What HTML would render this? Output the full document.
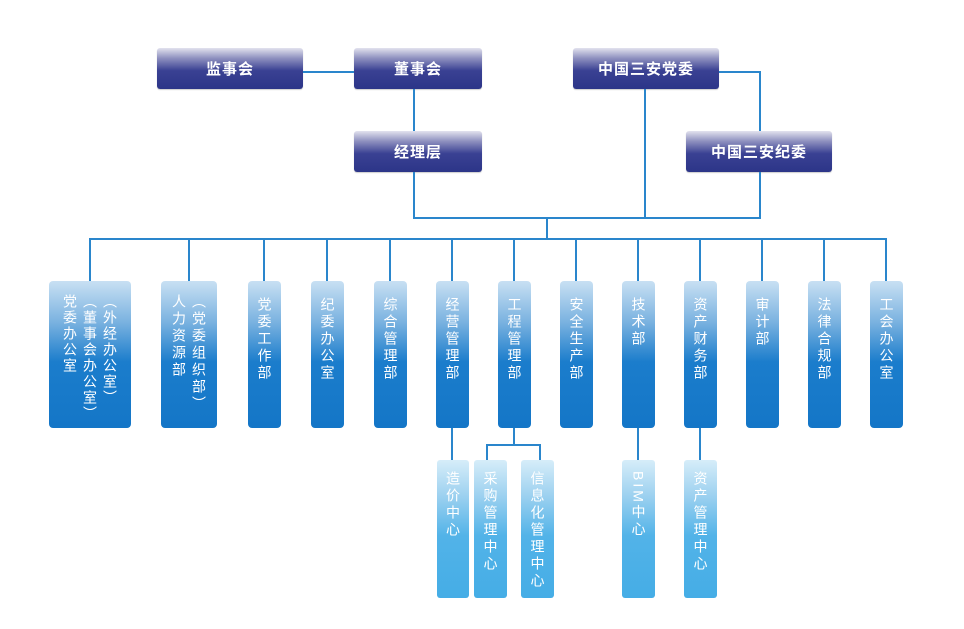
<!DOCTYPE html>
<html><head><meta charset="utf-8"><style>
body{margin:0;width:964px;height:629px;background:#fff;position:relative;overflow:hidden;font-family:"Liberation Sans","Noto Sans CJK SC",sans-serif}
.t{position:absolute;height:41px;border-radius:3px;background:linear-gradient(#e2e2ee 0%,#8e90bf 25%,#3a4193 55%,#2c3588 100%);color:#fff;font-weight:bold;font-size:15px;letter-spacing:1px;display:flex;align-items:center;justify-content:center;box-shadow:0 1px 1px rgba(0,0,0,.2)}
.l{position:absolute;background:#2a86cc}
.d{position:absolute;top:281px;height:147px;border-radius:4px;background:linear-gradient(#c8e0f3 0%,#7ab2e0 28%,#1b7dcc 55%,#1476c7 100%);color:#fff;font-size:14px;display:flex;justify-content:center;padding-top:16px;box-sizing:border-box}
.s{position:absolute;top:460px;height:138px;border-radius:3px;background:linear-gradient(#d6edf9 0%,#9fd2f0 25%,#52b3e8 55%,#45ade6 100%);color:#fff;font-size:14px;display:flex;justify-content:center;padding-top:11px;box-sizing:border-box}
.v{writing-mode:vertical-rl;letter-spacing:3px;line-height:20px;white-space:nowrap}
</style></head><body>
<div class="t" style="left:157px;top:48px;width:146px">监事会</div>
<div class="t" style="left:354px;top:48px;width:128px">董事会</div>
<div class="t" style="left:354px;top:131px;width:128px">经理层</div>
<div class="t" style="left:573px;top:48px;width:146px">中国三安党委</div>
<div class="t" style="left:686px;top:131px;width:146px">中国三安纪委</div>

<div class="l" style="left:303px;top:71px;width:51px;height:2px"></div>
<div class="l" style="left:413px;top:89px;width:2px;height:42px"></div>
<div class="l" style="left:413px;top:172px;width:2px;height:46px"></div>
<div class="l" style="left:719px;top:71px;width:42px;height:2px"></div>
<div class="l" style="left:759px;top:71px;width:2px;height:60px"></div>
<div class="l" style="left:644px;top:89px;width:2px;height:129px"></div>
<div class="l" style="left:759px;top:172px;width:2px;height:46px"></div>
<div class="l" style="left:413px;top:217px;width:348px;height:2px"></div>
<div class="l" style="left:546px;top:217px;width:2px;height:22px"></div>
<div class="l" style="left:89px;top:238px;width:798px;height:2px"></div>

<div class="l" style="left:89px;top:238px;width:2px;height:43px"></div>
<div class="l" style="left:188px;top:238px;width:2px;height:43px"></div>
<div class="l" style="left:263px;top:238px;width:2px;height:43px"></div>
<div class="l" style="left:326px;top:238px;width:2px;height:43px"></div>
<div class="l" style="left:389px;top:238px;width:2px;height:43px"></div>
<div class="l" style="left:451px;top:238px;width:2px;height:43px"></div>
<div class="l" style="left:513px;top:238px;width:2px;height:43px"></div>
<div class="l" style="left:575px;top:238px;width:2px;height:43px"></div>
<div class="l" style="left:637px;top:238px;width:2px;height:43px"></div>
<div class="l" style="left:699px;top:238px;width:2px;height:43px"></div>
<div class="l" style="left:761px;top:238px;width:2px;height:43px"></div>
<div class="l" style="left:823px;top:238px;width:2px;height:43px"></div>
<div class="l" style="left:885px;top:238px;width:2px;height:43px"></div>

<div class="d" style="left:49px;width:82px;padding-top:13px"><div class="v" style="letter-spacing:2px">（外经办公室）<br>（董事会办公室）<br>党委办公室</div></div>
<div class="d" style="left:161px;width:56px;padding-top:13px"><div class="v">（党委组织部）<br>人力资源部</div></div>
<div class="d" style="left:248px;width:33px"><div class="v">党委工作部</div></div>
<div class="d" style="left:311px;width:33px"><div class="v">纪委办公室</div></div>
<div class="d" style="left:374px;width:33px"><div class="v">综合管理部</div></div>
<div class="d" style="left:436px;width:33px"><div class="v">经营管理部</div></div>
<div class="d" style="left:498px;width:33px"><div class="v">工程管理部</div></div>
<div class="d" style="left:560px;width:33px"><div class="v">安全生产部</div></div>
<div class="d" style="left:622px;width:33px"><div class="v">技术部</div></div>
<div class="d" style="left:684px;width:33px"><div class="v">资产财务部</div></div>
<div class="d" style="left:746px;width:33px"><div class="v">审计部</div></div>
<div class="d" style="left:808px;width:33px"><div class="v">法律合规部</div></div>
<div class="d" style="left:870px;width:33px"><div class="v">工会办公室</div></div>

<div class="l" style="left:451px;top:428px;width:2px;height:32px"></div>
<div class="l" style="left:513px;top:428px;width:2px;height:17px"></div>
<div class="l" style="left:486px;top:444px;width:55px;height:2px"></div>
<div class="l" style="left:486px;top:444px;width:2px;height:16px"></div>
<div class="l" style="left:539px;top:444px;width:2px;height:16px"></div>
<div class="l" style="left:637px;top:428px;width:2px;height:32px"></div>
<div class="l" style="left:699px;top:428px;width:2px;height:32px"></div>

<div class="s" style="left:437px;width:32px"><div class="v">造价中心</div></div>
<div class="s" style="left:474px;width:33px"><div class="v">采购管理中心</div></div>
<div class="s" style="left:521px;width:33px"><div class="v">信息化管理中心</div></div>
<div class="s" style="left:622px;width:33px"><div class="v">BIM中心</div></div>
<div class="s" style="left:684px;width:33px"><div class="v">资产管理中心</div></div>
</body></html>
